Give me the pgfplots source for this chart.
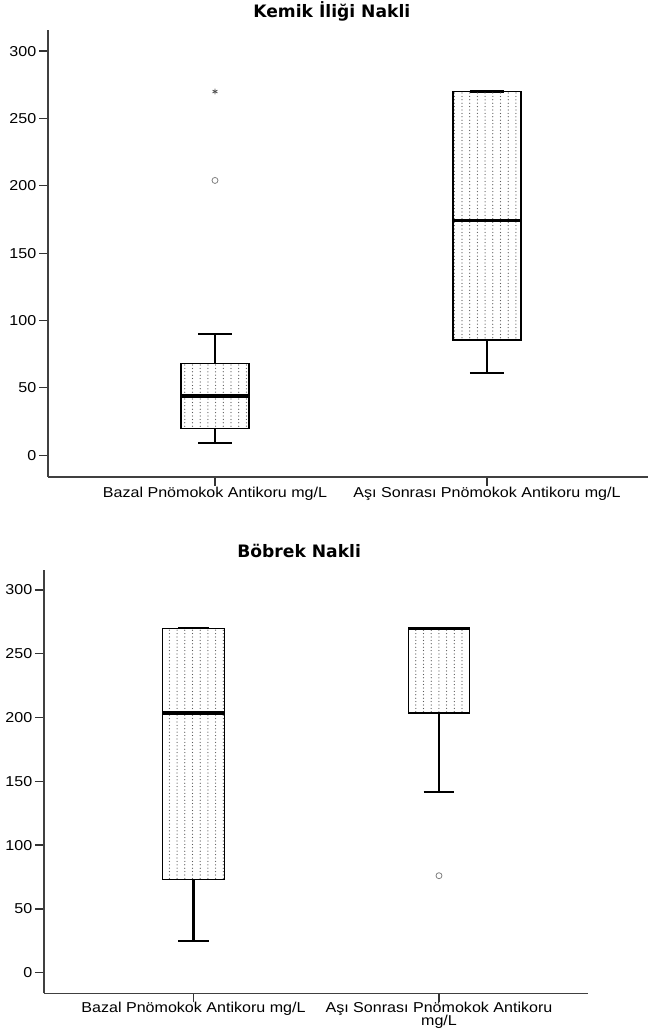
\documentclass[border=0pt]{standalone}
\usepackage{fontspec}
\setmainfont{Liberation Sans}[FakeStretch=1.12]
\newfontfamily\titlefont{DejaVu Sans}
\usepackage{pgfplots}
\pgfplotsset{compat=1.18}
\usepgfplotslibrary{statistics}
\usetikzlibrary{patterns}

% dotted fill used inside the boxes
\pgfdeclarepatternformonly{spssdots}{\pgfqpoint{-1bp}{-1bp}}{\pgfqpoint{1bp}{1bp}}{\pgfqpoint{7.7bp}{3.4bp}}{%
  \pgfpathcircle{\pgfqpoint{0bp}{0bp}}{0.62bp}\pgfusepath{fill}}

\pgfplotsset{
  spss/.style={
    scale only axis,
    axis x line=bottom, axis y line=left,
    axis line style={-, black!75, line width=1.3bp},
    tick style={black!80, line width=1.3bp},
    tick align=outside, major tick length=9bp,
    xtick={0,1}, ytick={0,50,...,300},
    ymin=-16.2, ymax=315.7,
    /pgf/number format/assume math mode=true,
    tick label style={font=\fontsize{14.4}{14}\selectfont},
    yticklabel style={inner sep=2.5bp},
    xticklabel style={align=center, inner sep=0.5bp},
    boxplot/draw direction=y,
    boxplot/every box/.style={draw=black, line width=1.3bp, pattern=spssdots, pattern color=black!65},
    boxplot/every median/.style={line width=3.2bp},
    boxplot/every whisker/.style={line width=2.4bp},
    title style={font=\titlefont\bfseries\fontsize{17.2}{19}\selectfont, anchor=base, inner sep=0pt},
  },
  outlier/.style={only marks, mark=o, mark size=3bp, black!50, line width=0.8bp},
  extreme/.style={only marks, mark=asterisk, mark size=2.8bp, black!70, line width=0.8bp},
}

\begin{document}
\begin{tikzpicture}
\useasboundingbox (0,0) rectangle (649bp,1028bp);

% Kemik iligi nakli
\begin{axis}[spss, at={(48bp,551bp)}, anchor=south west,
  width=600bp, height=447bp, xmin=-0.614, xmax=1.592,
  xticklabels={Bazal Pnömokok Antikoru mg/L, Aşı Sonrası Pnömokok Antikoru mg/L},
  title={Kemik İliği Nakli}, title style={at={(0.473,1)}, yshift=6.7bp}]
\addplot[black, boxplot prepared={draw position=0, lower whisker=9, lower quartile=20,
  median=44, upper quartile=68, upper whisker=90, box extend=0.25, whisker extend=0.125}] coordinates {};
\addplot[black, boxplot prepared={draw position=1, lower whisker=61, lower quartile=85.5,
  median=174, upper quartile=270, upper whisker=270, box extend=0.25, whisker extend=0.125}] coordinates {};
\addplot[outlier] coordinates {(0,204)};
\addplot[extreme] coordinates {(0,270)};
\end{axis}

% Bobrek nakli
\begin{axis}[spss, at={(44bp,34.7bp)}, anchor=south west,
  width=544bp, height=423.3bp, xmin=-0.609, xmax=1.607,
  xticklabel style={inner sep=0bp},
  xticklabels={Bazal Pnömokok Antikoru mg/L, {Aşı Sonrası Pnömokok Antikoru\\[-1.5bp]mg/L}},
  title={Böbrek Nakli}, title style={at={(0.469,1)}, yshift=6.7bp}]
\addplot[black, boxplot prepared={draw position=0, lower whisker=25, lower quartile=73,
  median=203.5, upper quartile=270, upper whisker=270, box extend=0.25, whisker extend=0.125}] coordinates {};
\addplot[black, boxplot prepared={draw position=1, lower whisker=141.5, lower quartile=203.5,
  median=270, upper quartile=270, upper whisker=270, box extend=0.25, whisker extend=0.125}] coordinates {};
\addplot[outlier] coordinates {(1,76)};
\end{axis}
\end{tikzpicture}
\end{document}
